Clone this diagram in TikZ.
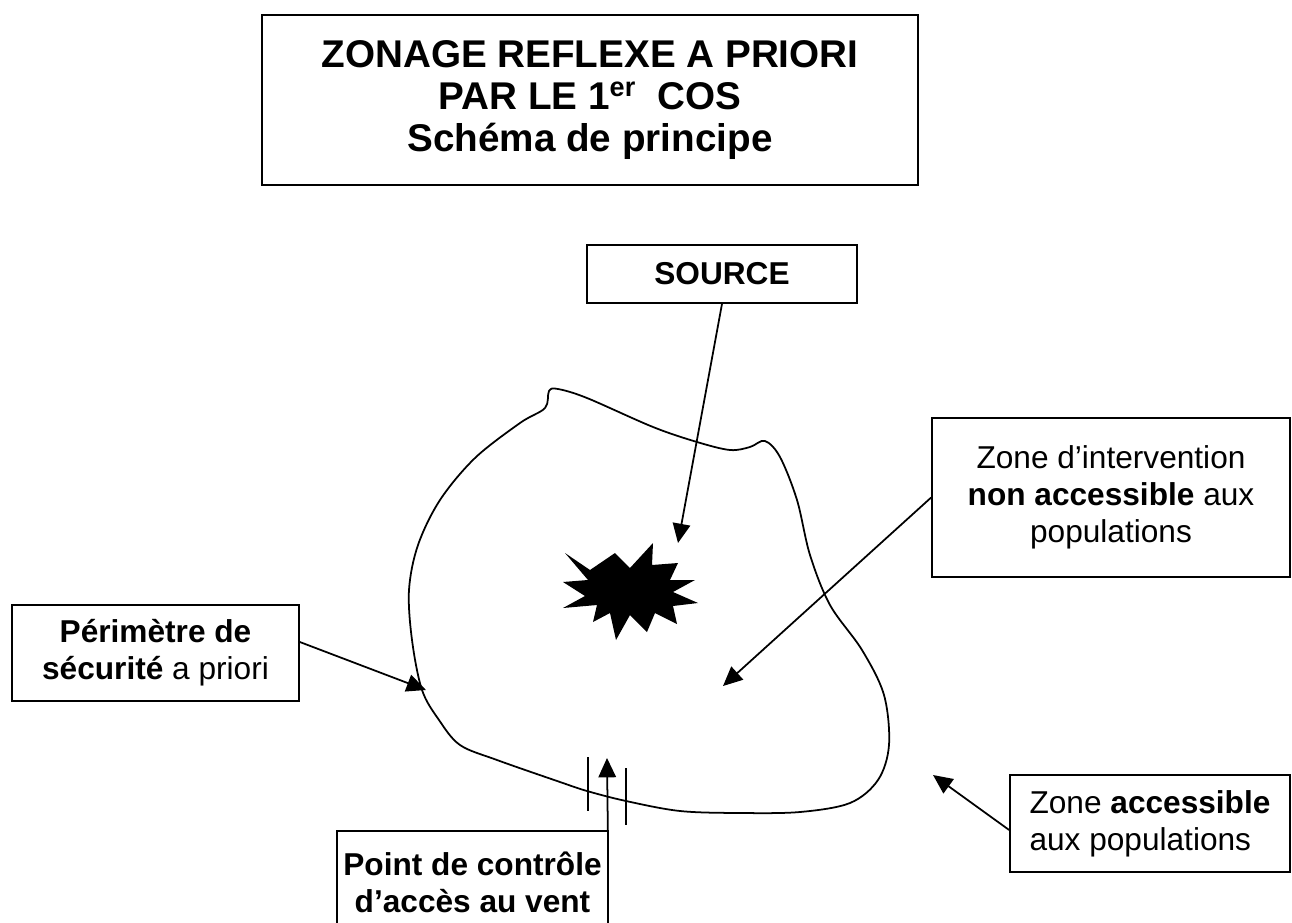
\documentclass[tikz,border=0pt]{standalone}
\usepackage{fontspec}
\setmainfont{Liberation Sans}
\usetikzlibrary{arrows.meta}

\begin{document}
\begin{tikzpicture}[x=0.02cm, y=-0.02cm,
    box/.style={draw, line width=1pt, inner sep=0pt, align=center, font=\fontsize{18}{21}\selectfont},
    arr/.style={line width=1pt, -{Triangle[length=11pt, width=10pt]}}]
    \useasboundingbox (0,0) rectangle (1292,923);

    % Title box
    \node[box, minimum width=13.12cm, minimum height=3.4cm, font=\fontsize{22}{24}\selectfont\bfseries] (title) at (590,100)
        {ZONAGE REFLEXE A PRIORI\\ PAR LE 1\textsuperscript{er}~ COS\\ Schéma de principe};

    % Outline of the zone (perimeter)
    \draw[line width=1pt] plot[smooth cycle, tension=0.55] coordinates {
        (549,391) (558,389) (587,398) (653,427) (697,442) (730,450) (750,447) (765,441)
        (780,457) (797,500) (810,555) (830,605) (862,650) (884,695) (889,745) (878,780)
        (850,803) (800,812) (740,813) (680,811) (626,801) (587,791) (560,782) (497,760)
        (460,745) (439,720) (422,690) (412,640) (409,590) (418,545) (440,500) (475,458)
        (520,423) (545,408)};

    % Source (starburst)
    \fill (565,553) -- (590,570) -- (615,553) -- (630,568) -- (653,543) -- (652,565)
        -- (678,563) -- (670,580) -- (695,580) -- (673,592) -- (698,603) -- (673,606)
        -- (677,624) -- (655,613) -- (647,632) -- (630,615) -- (616,640) -- (610,613)
        -- (593,622) -- (597,605) -- (563,608) -- (585,596) -- (563,582) -- (588,580) -- cycle;

    % Control point bars
    \draw[line width=1pt] (588,757) -- (588,811);
    \draw[line width=1pt] (626,768) -- (626,825);

    % Labels
    \node[box, minimum width=5.4cm, minimum height=1.16cm, font=\fontsize{18}{21}\selectfont\bfseries] (source) at (722,274) {SOURCE};
    \node[box, minimum width=7.16cm, minimum height=3.18cm] (interv) at (1111,497.5)
        {Zone d’intervention\\ \textbf{non accessible} aux\\ populations};
    \node[box, minimum width=5.74cm, minimum height=1.92cm] (perim) at (155.5,653)
        {\textbf{Périmètre de}\\ \textbf{sécurité} a priori};
    \node[box, align=left, minimum width=5.6cm, minimum height=1.94cm] (access) at (1150,823.5)
        {Zone \textbf{accessible}\\ aux populations};
    \node[box, draw=none, minimum width=5.38cm, minimum height=2cm, font=\fontsize{18}{21}\selectfont\bfseries] (point) at (472.5,882)
        {Point de contrôle\\ d’accès au vent};
    \draw[line width=1pt] (point.south west |- 0,923) |- (point.north east) -- (point.east |- 0,923);

    % Arrows
    \coordinate (srctip) at (678,543);
    \coordinate (intervtip) at (723,686);
    \coordinate (perimtip) at (426,690);
    \coordinate (accesstip) at (933,775);
    \coordinate (pointtip) at (607,758);
    \draw[arr] (source.south) -- (srctip);
    \draw[arr] (interv.west) -- (intervtip);
    \draw[arr] ([yshift=0.22cm]perim.east) -- (perimtip);
    \draw[arr] ([yshift=-0.13cm]access.west) -- (accesstip);
    \draw[arr] (point.north east) -- (pointtip);
\end{tikzpicture}
\end{document}
